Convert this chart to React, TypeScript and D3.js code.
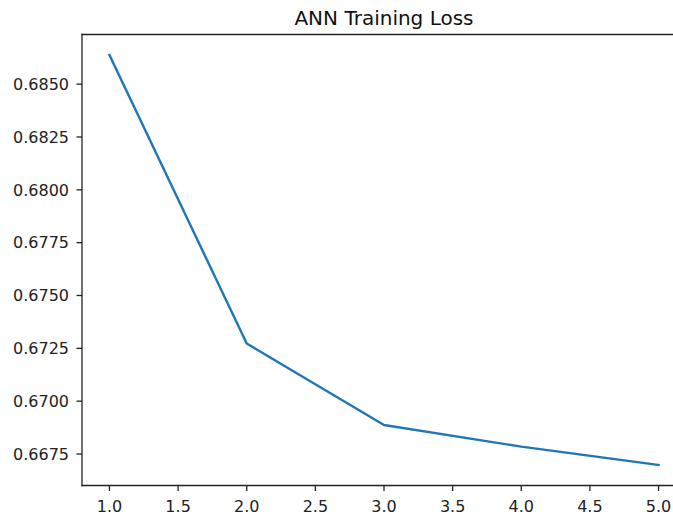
import React from "react";
import * as d3 from "d3";

const epochs: number[] = [1, 2, 3, 4, 5];
const lossValues: number[] = [0.68638, 0.67273, 0.66887, 0.66785, 0.66698];
const xTicks: number[] = [1.0, 1.5, 2.0, 2.5, 3.0, 3.5, 4.0, 4.5, 5.0];
const yTicks: number[] = [0.6675, 0.67, 0.6725, 0.675, 0.6775, 0.68, 0.6825, 0.685];
const title = "ANN Training Loss";

const W = 673;
const H = 517;
const left = 82;
const right = 686;
const top = 34.5;
const bottom = 485.5;
const font = "'DejaVu Sans', sans-serif";

export default function App() {
  const xMin = d3.min(epochs)!;
  const xMax = d3.max(epochs)!;
  const xPad = (xMax - xMin) * 0.05;
  const x = d3.scaleLinear().domain([xMin - xPad, xMax + xPad]).range([left, right]);
  const yMin = d3.min(lossValues)!;
  const yMax = d3.max(lossValues)!;
  const yPad = (yMax - yMin) * 0.05;
  const y = d3.scaleLinear().domain([yMin - yPad, yMax + yPad]).range([bottom, top]);
  const line = d3
    .line<number>()
    .x((_, i) => x(epochs[i]))
    .y((d) => y(d));

  return (
    <svg
      width={W}
      height={H}
      style={{ display: "block", position: "absolute", left: 0, top: 0, background: "#fff" }}
    >
      <rect x={0} y={0} width={W} height={H} fill="#fff" />
      <text x={(left + right) / 2} y={25} textAnchor="middle" fontFamily={font} fontSize={20} fill="#111">
        {title}
      </text>
      <path d={line(lossValues) || ""} fill="none" stroke="#1f77b4" strokeWidth={2.4} strokeLinejoin="round" strokeLinecap="square" />
      {/* spines */}
      <line x1={left} x2={left} y1={top} y2={bottom} stroke="#222" strokeWidth={1.3} strokeLinecap="square" />
      <line x1={left} x2={W} y1={top} y2={top} stroke="#222" strokeWidth={1.3} strokeLinecap="square" />
      <line x1={left} x2={W} y1={bottom} y2={bottom} stroke="#222" strokeWidth={1.3} strokeLinecap="square" />
      {yTicks.map((t) => (
        <g key={"y" + t}>
          <line x1={left - 5.5} x2={left} y1={y(t)} y2={y(t)} stroke="#222" strokeWidth={1.3} />
          <text x={left - 13} y={y(t)} dy="0.36em" textAnchor="end" fontFamily={font} fontSize={16} fill="#222">
            {t.toFixed(4)}
          </text>
        </g>
      ))}
      {xTicks.map((t) => (
        <g key={"x" + t}>
          <line x1={x(t)} x2={x(t)} y1={bottom} y2={bottom + 5.5} stroke="#222" strokeWidth={1.3} />
          <text x={x(t)} y={511.5} textAnchor="middle" fontFamily={font} fontSize={16} fill="#222">
            {t.toFixed(1)}
          </text>
        </g>
      ))}
    </svg>
  );
}
